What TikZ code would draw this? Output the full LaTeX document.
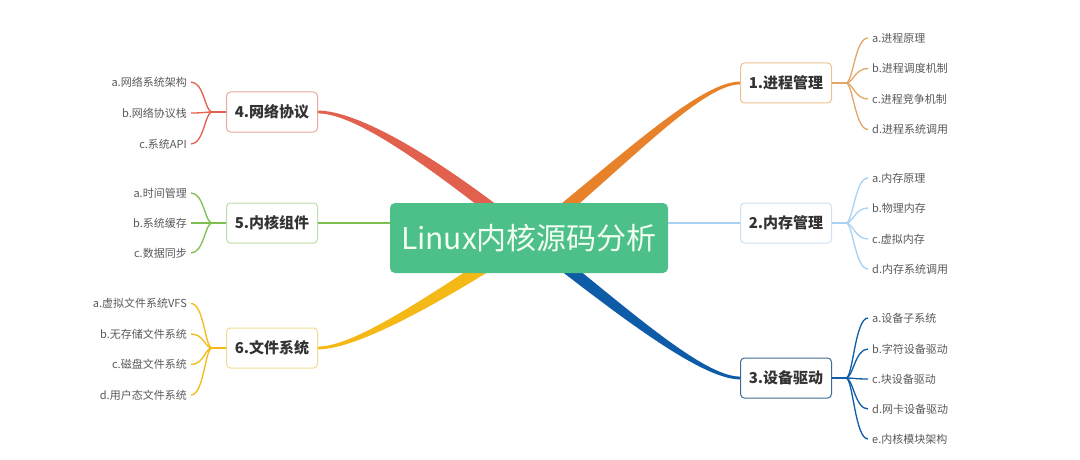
\documentclass[tikz,border=0pt]{standalone}
\usepackage{fontspec}
\setmainfont{Noto Sans CJK SC}
\usetikzlibrary{backgrounds}

\definecolor{rootgreen}{HTML}{4DBF89}
\definecolor{lineorange}{HTML}{E8822A}
\definecolor{linesky}{HTML}{A9D1F2}
\definecolor{lineblue}{HTML}{0E5CA8}
\definecolor{linered}{HTML}{E2604E}
\definecolor{linegreen}{HTML}{7DBE4F}
\definecolor{lineyellow}{HTML}{F4B916}
\definecolor{boxorange}{HTML}{EDC193}
\definecolor{boxsky}{HTML}{CFE2F3}
\definecolor{boxblue}{HTML}{3D6C92}
\definecolor{boxred}{HTML}{E9AA9C}
\definecolor{boxgreen}{HTML}{BEDDA6}
\definecolor{boxyellow}{HTML}{F3DC92}
\definecolor{forkorange}{HTML}{E2A667}
\definecolor{textdark}{HTML}{333333}
\definecolor{textgray}{HTML}{595959}

\tikzset{
    root/.style={fill=rootgreen, rounded corners=5pt, minimum width=278pt, minimum height=70pt,
        text=white!95!green, font=\fontsize{30}{30}\selectfont},
    topic/.style={draw=#1, fill=white, rounded corners=4pt, line width=1pt, minimum width=91pt,
        minimum height=40pt, text=textdark, font=\bfseries\fontsize{15}{15}\selectfont},
    sub/.style={text=textgray, inner sep=4pt, font=\fontsize{11}{11}\selectfont},
    fork/.style={draw=#1, line width=1.3pt}
}

% tapered branch: colour, start, end, first control, second control
\newcommand{\taper}[5]{\fill[#1] ([yshift=8pt]#2) .. controls +#4 and +#5 .. ([yshift=1.4pt]#3)
    -- ([yshift=-1.4pt]#3) .. controls +#5 and +#4 .. ([yshift=-8pt]#2) -- cycle;}

\begin{document}
\begin{tikzpicture}[x=1pt,y=-1pt]
        \useasboundingbox (0,0) rectangle (1080,460);

        \node[root] (0) at (529,238) {Linux内核源码分析};

        \node[topic=boxorange] (1) at (786,83) {1.进程管理};
        \node[topic=boxsky] (2) at (786,223) {2.内存管理};
        \node[topic=boxblue] (3) at (786,378) {3.设备驱动};
        \node[topic=boxred] (4) at (272,112) {4.网络协议};
        \node[topic=boxgreen] (5) at (272,223) {5.内核组件};
        \node[topic=boxyellow] (6) at (272,348) {6.文件系统};

        \begin{scope}[on background layer]
            \taper{lineorange}{0.center}{1.west}{(91,-73)}{(-40,0)}
            \taper{linered}{0.center}{4.east}{(-91,-73)}{(40,0)}
            \taper{lineblue}{0.center}{3.west}{(85,66)}{(-40,0)}
            \taper{lineyellow}{0.center}{6.east}{(-85,55)}{(40,0)}
        \end{scope}
        \path[draw,line width=2.2pt,linesky] (0.east |- 2) -- (2);
        \path[draw,line width=2pt,linegreen] (0.west |- 5) -- (5);

        % 1
        \node[sub,anchor=west] (1a) at (868,38) {a.进程原理};
        \node[sub,anchor=west] (1b) at (868,68.5) {b.进程调度机制};
        \node[sub,anchor=west] (1c) at (868,99) {c.进程竞争机制};
        \node[sub,anchor=west] (1d) at (868,129.5) {d.进程系统调用};
        \coordinate (1j) at (846,83);
        \path[fork=forkorange] (1) -- (1j);
        \path[fork=forkorange] (1j) .. controls +(7,0) and +(-13,0) .. (1a.west);
        \path[fork=forkorange] (1j) .. controls +(7,0) and +(-13,0) .. (1b.west);
        \path[fork=forkorange] (1j) .. controls +(7,0) and +(-13,0) .. (1c.west);
        \path[fork=forkorange] (1j) .. controls +(7,0) and +(-13,0) .. (1d.west);

        % 2
        \node[sub,anchor=west] (2a) at (868,178) {a.内存原理};
        \node[sub,anchor=west] (2b) at (868,208) {b.物理内存};
        \node[sub,anchor=west] (2c) at (868,239) {c.虚拟内存};
        \node[sub,anchor=west] (2d) at (868,269) {d.内存系统调用};
        \coordinate (2j) at (846,223);
        \path[fork=linesky] (2) -- (2j);
        \path[fork=linesky] (2j) .. controls +(7,0) and +(-13,0) .. (2a.west);
        \path[fork=linesky] (2j) .. controls +(7,0) and +(-13,0) .. (2b.west);
        \path[fork=linesky] (2j) .. controls +(7,0) and +(-13,0) .. (2c.west);
        \path[fork=linesky] (2j) .. controls +(7,0) and +(-13,0) .. (2d.west);

        % 3
        \node[sub,anchor=west] (3a) at (868,318) {a.设备子系统};
        \node[sub,anchor=west] (3b) at (868,349) {b.字符设备驱动};
        \node[sub,anchor=west] (3c) at (868,379) {c.块设备驱动};
        \node[sub,anchor=west] (3d) at (868,409) {d.网卡设备驱动};
        \node[sub,anchor=west] (3e) at (868,439) {e.内核模块架构};
        \coordinate (3j) at (846,378);
        \path[fork=lineblue] (3) -- (3j);
        \path[fork=lineblue] (3j) .. controls +(7,0) and +(-13,0) .. (3a.west);
        \path[fork=lineblue] (3j) .. controls +(7,0) and +(-13,0) .. (3b.west);
        \path[fork=lineblue] (3j) .. controls +(7,0) and +(-13,0) .. (3c.west);
        \path[fork=lineblue] (3j) .. controls +(7,0) and +(-13,0) .. (3d.west);
        \path[fork=lineblue] (3j) .. controls +(7,0) and +(-13,0) .. (3e.west);

        % 4
        \node[sub,anchor=east] (4a) at (191,82) {a.网络系统架构};
        \node[sub,anchor=east] (4b) at (191,113) {b.网络协议栈};
        \node[sub,anchor=east] (4c) at (191,144) {c.系统API};
        \coordinate (4j) at (212,112);
        \path[fork=linered] (4) -- (4j);
        \path[fork=linered] (4j) .. controls +(-7,0) and +(13,0) .. (4a.east);
        \path[fork=linered] (4j) .. controls +(-7,0) and +(13,0) .. (4b.east);
        \path[fork=linered] (4j) .. controls +(-7,0) and +(13,0) .. (4c.east);

        % 5
        \node[sub,anchor=east] (5a) at (191,193) {a.时间管理};
        \node[sub,anchor=east] (5b) at (191,223) {b.系统缓存};
        \node[sub,anchor=east] (5c) at (191,253) {c.数据同步};
        \coordinate (5j) at (212,223);
        \path[fork=linegreen] (5) -- (5j);
        \path[fork=linegreen] (5j) .. controls +(-7,0) and +(13,0) .. (5a.east);
        \path[fork=linegreen] (5j) .. controls +(-7,0) and +(13,0) .. (5b.east);
        \path[fork=linegreen] (5j) .. controls +(-7,0) and +(13,0) .. (5c.east);

        % 6
        \node[sub,anchor=east] (6a) at (191,303.5) {a.虚拟文件系统VFS};
        \node[sub,anchor=east] (6b) at (191,334) {b.无存储文件系统};
        \node[sub,anchor=east] (6c) at (191,364.5) {c.磁盘文件系统};
        \node[sub,anchor=east] (6d) at (191,395) {d.用户态文件系统};
        \coordinate (6j) at (212,348);
        \path[fork=lineyellow] (6) -- (6j);
        \path[fork=lineyellow] (6j) .. controls +(-7,0) and +(13,0) .. (6a.east);
        \path[fork=lineyellow] (6j) .. controls +(-7,0) and +(13,0) .. (6b.east);
        \path[fork=lineyellow] (6j) .. controls +(-7,0) and +(13,0) .. (6c.east);
        \path[fork=lineyellow] (6j) .. controls +(-7,0) and +(13,0) .. (6d.east);
    \end{tikzpicture}
\end{document}
